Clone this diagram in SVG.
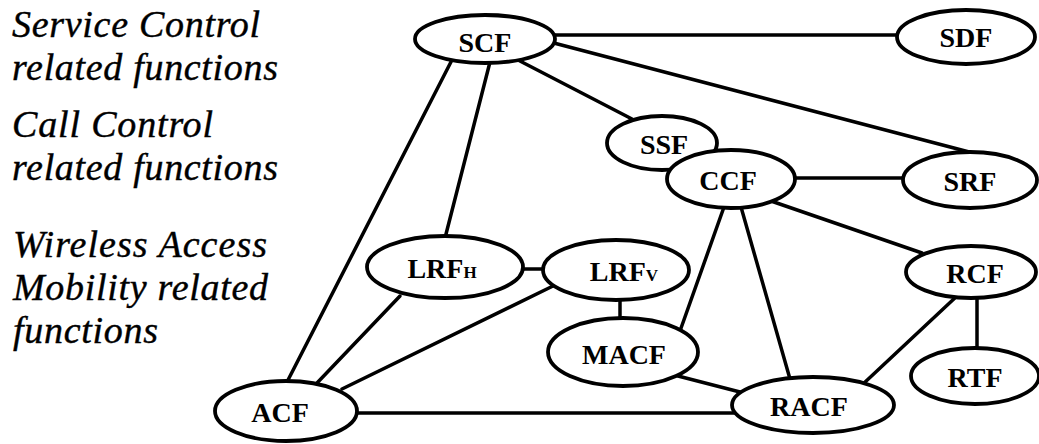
<svg xmlns="http://www.w3.org/2000/svg" width="1039" height="444" viewBox="0 0 1039 444">
<style>
.cap{font-family:"Liberation Serif","Times New Roman",serif;font-style:italic;font-size:38px;fill:#000;stroke:#000;stroke-width:0.4}
.node ellipse{fill:#fff;stroke:#000;stroke-width:3.8}
.node text{font-family:"Liberation Serif","Times New Roman",serif;font-weight:bold;font-size:28px;fill:#000;text-anchor:middle}
.sub{font-size:17px}
#connectors line{stroke:#000;stroke-width:3.5;stroke-linecap:round}
</style>
<rect width="1039" height="444" fill="#fff"/>
<g id="captions">
<text class="cap" x="12" y="37" textLength="248">Service Control</text>
<text class="cap" x="12" y="80" textLength="266">related functions</text>
<text class="cap" x="12" y="137" textLength="201">Call Control</text>
<text class="cap" x="12" y="180" textLength="266">related functions</text>
<text class="cap" x="13" y="257" textLength="254">Wireless Access</text>
<text class="cap" x="13" y="300" textLength="255">Mobility related</text>
<text class="cap" x="13" y="343" textLength="145">functions</text>
</g>
<g id="connectors">
<line x1="550" y1="35" x2="900" y2="35"/>
<line x1="550" y1="42" x2="973" y2="153"/>
<line x1="518" y1="60" x2="632" y2="119"/>
<line x1="490" y1="62" x2="445" y2="238"/>
<line x1="454" y1="56" x2="287" y2="382"/>
<line x1="793" y1="178" x2="905" y2="178"/>
<line x1="771" y1="201" x2="922" y2="253"/>
<line x1="724" y1="207" x2="680" y2="331"/>
<line x1="741" y1="207" x2="790" y2="379"/>
<line x1="520" y1="269" x2="546" y2="269"/>
<line x1="400" y1="296" x2="317" y2="383"/>
<line x1="553" y1="286" x2="342" y2="389"/>
<line x1="620" y1="298" x2="620" y2="320"/>
<line x1="678" y1="376" x2="740" y2="392"/>
<line x1="355" y1="413" x2="734" y2="413"/>
<line x1="957" y1="296" x2="863" y2="384"/>
<line x1="977" y1="296" x2="977" y2="350"/>
</g>
<g id="SCF" class="node"><ellipse cx="485" cy="39" rx="70" ry="24"/><text x="485" y="52">SCF</text></g>
<g id="SDF" class="node"><ellipse cx="966" cy="37" rx="69" ry="27"/><text x="966" y="47">SDF</text></g>
<g id="SSF" class="node"><ellipse cx="662" cy="143" rx="55" ry="27"/><text x="664" y="154">SSF</text></g>
<g id="CCF" class="node"><ellipse cx="731" cy="179" rx="64" ry="29"/><text x="728" y="190">CCF</text></g>
<g id="SRF" class="node"><ellipse cx="970" cy="180" rx="67" ry="28"/><text x="970" y="191">SRF</text></g>
<g id="LRFH" class="node"><ellipse cx="445" cy="267" rx="78" ry="31"/><text x="442" y="278">LRF<tspan class="sub">H</tspan></text></g>
<g id="LRFV" class="node"><ellipse cx="616" cy="270" rx="73" ry="30"/><text x="624" y="281">LRF<tspan class="sub">V</tspan></text></g>
<g id="RCF" class="node"><ellipse cx="971" cy="272" rx="65" ry="26"/><text x="975" y="283">RCF</text></g>
<g id="MACF" class="node"><ellipse cx="623" cy="352" rx="75" ry="34"/><text x="624" y="364">MACF</text></g>
<g id="RTF" class="node"><ellipse cx="975" cy="376" rx="64" ry="28"/><text x="975" y="387">RTF</text></g>
<g id="ACF" class="node"><ellipse cx="286" cy="411" rx="71" ry="30"/><text x="280" y="422">ACF</text></g>
<g id="RACF" class="node"><ellipse cx="813" cy="405" rx="81" ry="28"/><text x="809" y="416">RACF</text></g>
</svg>
